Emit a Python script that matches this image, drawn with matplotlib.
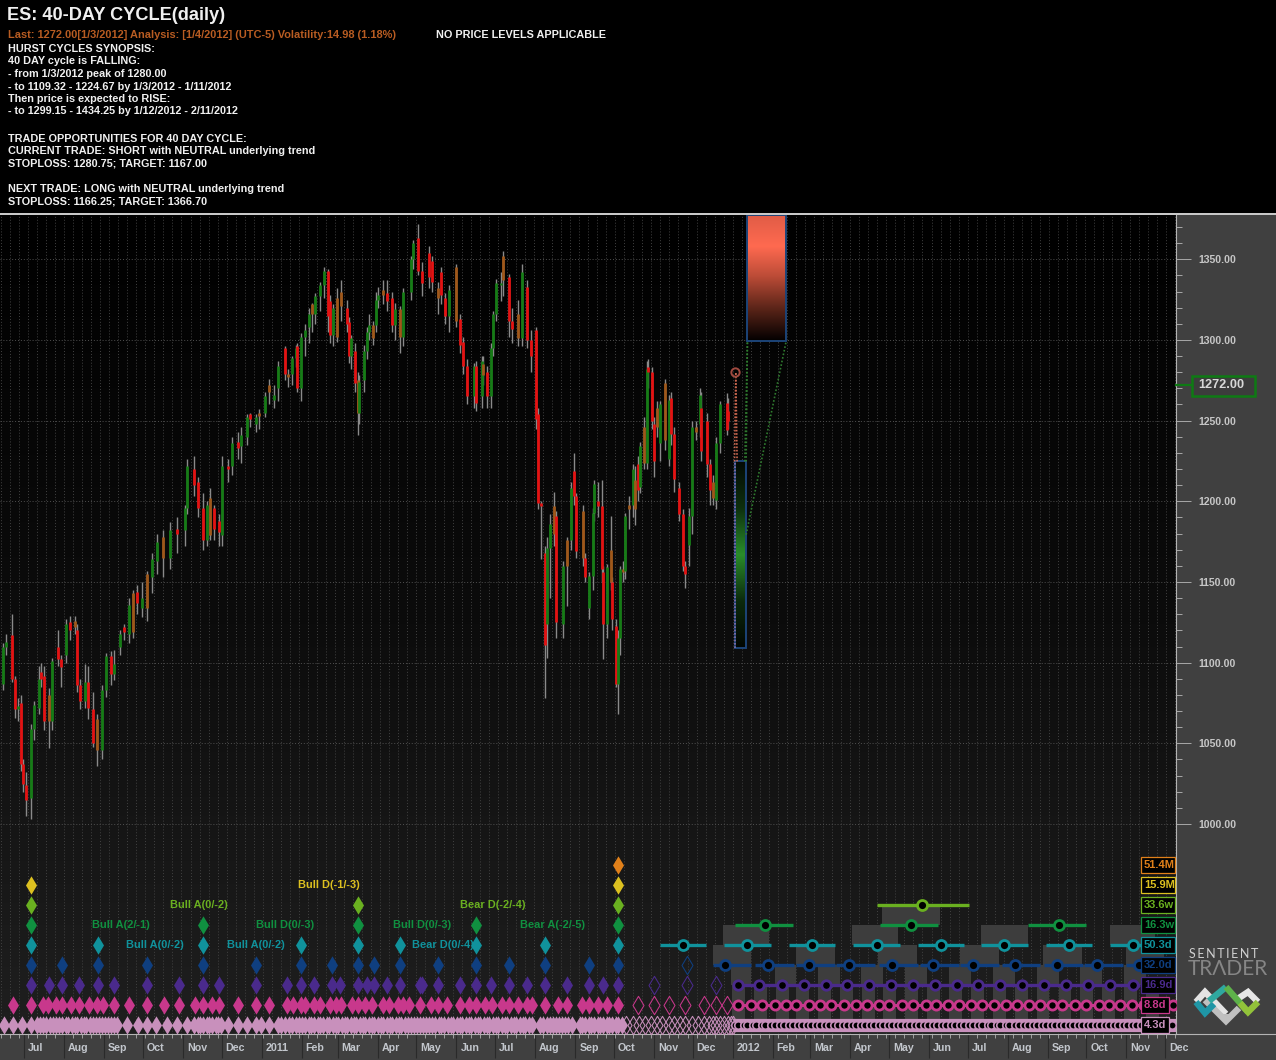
import numpy as np
import pandas as pd
import matplotlib
matplotlib.use("Agg")
import matplotlib.pyplot as plt
from matplotlib.colors import LinearSegmentedColormap
from matplotlib.patches import Rectangle
from matplotlib.path import Path
from matplotlib.transforms import ScaledTranslation

plt.rcParams['font.family'] = ['Liberation Sans', 'DejaVu Sans']
plt.rcParams['font.weight'] = 'bold'

# ---------- data: day numbers count calendar days from mid June 2010 ----------
bar_days = [2,5,9,12,14,16,18,20,24,26,30,32,34,38,40,45,47,51,54,58,60,62,66,68,72,75,79,82,86,88,
93,96,100,103,106,110,114,118,122,126,132,137,143,145,150,153,157,160,163,166,170,172,177,180,184,187,191,194,198,201,
205,208,212,215,221,223,226,229,230,233,236,239,242,244,248,251,254,
256,258,261,264,269,270,272,275,277,278,282,284,286,289,291,293,297,300,304,306,
310,312,318,320,324,327,332,335,339,342,345,348,353,356,359,362,367,369,373,374,
377,380,382,384,388,390,394,397,401,404,408,411,415,417,419,422,424,426,429,431,
436,439,442,445,446,452,453,456,459,460,463,466,467,470,473,474,477,479,480,483,
484,487,490,492,494,496,499,501,502,505,507,509,511,515,518,520,522,526,529,531,
534,536,539,542,543,548,550,552,555,558,563,564]
opens = [1087,1110,1117,1090,1071,1075,1037,1024,1016,1059,1072,1094,1092,1080,1064,1110,1102,1105,1125,1126,
1120,1086,1076,1088,1071,1065,1046,1083,1104,1093,1110,1122,1118,1119,1144,1134,1134,1153,1163,1178,
1165,1183,1182,1196,1220,1212,1196,1176,1202,1196,1188,1179,1222,1222,1237,1234,1240,1254,1248,1255,
1255,1272,1263,1270,1295,1279,1279,1289,1296,1270,1302,1308,1322,1316,1327,1334,1343,
1324,1303,1302,1330,1320,1311,1290,1293,1275,1255,
1275,1293,1305,1301,1309,1325,1331,1329,1326,1309,
1319,1302,1330,1350,1363,1343,1354,1349,1332,1342,
1326,1315,1345,1313,1299,1284,1265,1284,1265,1285,
1280,1265,1295,1316,1334,1352,1339,1312,1316,1301,
1333,1300,1306,1254,1199,1168,1124,1171,1197,1191,
1124,1160,1176,1219,1203,1194,1165,1134,1154,1193,
1200,1197,1156,1124,1170,1150,1123,1087,1115,1158,
1157,1198,1198,1195,1223,1209,1246,1224,1283,1280,
1248,1258,1236,1273,1226,1264,1242,1208,1192,1160,
1173,1191,1246,1248,1258,1250,1223,1212,1201,1236,
1261,1256]
closes = [1110,1113,1090,1071,1073,1037,1025,1015,1059,1074,
1090,1090,1064,1064,1101,1102,1097,1124,1120,1122,
1086,1076,1088,1072,1050,1046,1083,1104,1093,1099,
1118,1119,1136,1143,1137,1140,1155,1164,1175,1165,
1182,1180,1196,1222,1210,1196,1176,1198,1179,1183,
1181,1222,1220,1236,1233,1241,1252,1251,1252,1253,
1265,1268,1266,1284,1279,1277,1289,1295,1270,1302,
1306,1316,1316,1327,1334,1343,1315,
1303,1320,1326,1321,1310,1290,1301,1273,1255,1274,
1293,1305,1309,1309,1325,1328,1328,1324,1309,1319,
1302,1330,1350,1360,1343,1335,1339,1336,1326,1328,
1315,1331,1312,1297,1284,1265,1284,1261,1287,1278,
1265,1295,1316,1335,1335,1337,1312,1307,1301,1342,
1300,1290,1251,1199,1197,1111,1171,1186,1180,1125,
1160,1176,1208,1203,1169,1165,1153,1154,1193,1211,
1197,1158,1124,1159,1150,1127,1087,1115,1158,1156,
1191,1195,1220,1213,1207,1234,1224,1282,1280,1250,
1225,1246,1260,1238,1263,1242,1214,1192,1160,1155,
1191,1246,1243,1266,1231,1223,1207,1202,1236,1260,
1244,1250]
highs = [1112,1118,1130,1092,1078,1080,1040,1032,1062,1076,
1098,1100,1098,1084,1103,1120,1105,1127,1129,1129,
1124,1090,1099,1098,1082,1068,1086,1106,1107,1108,
1120,1124,1140,1145,1148,1150,1157,1168,1180,1182,
1187,1190,1198,1226,1228,1215,1205,1200,1208,1198,
1192,1228,1226,1240,1243,1246,1254,1255,1254,1257,
1268,1276,1272,1287,1296,1282,1290,1297,1298,1304,
1310,1320,1323,1329,1336,1345,1344,
1328,1322,1332,1337,1325,1314,1303,1298,1280,1278,
1297,1308,1316,1312,1330,1333,1337,1337,1330,1323,
1321,1332,1352,1362,1372,1348,1358,1352,1336,1345,
1329,1334,1347,1316,1302,1288,1286,1287,1290,1290,
1284,1298,1318,1338,1342,1355,1341,1320,1325,1347,
1337,1306,1308,1258,1200,1172,1178,1192,1206,1194,
1163,1178,1212,1230,1205,1198,1168,1156,1196,1213,
1212,1213,1160,1161,1191,1153,1127,1120,1160,1163,
1193,1203,1223,1222,1228,1237,1252,1287,1288,1283,
1252,1262,1262,1276,1266,1268,1246,1212,1195,1163,
1196,1250,1250,1270,1268,1255,1226,1216,1240,1262,
1267,1264]
lows = [1083,1105,1088,1066,1064,1033,1020,1005,1003,1052,
1068,1085,1058,1047,1058,1098,1085,1100,1114,1118,
1082,1071,1072,1065,1048,1036,1040,1079,1086,1089,
1105,1114,1112,1115,1130,1128,1126,1143,1155,1153,
1158,1168,1172,1192,1203,1190,1170,1172,1176,1176,
1172,1172,1212,1216,1226,1224,1235,1246,1243,1245,
1252,1260,1258,1262,1275,1271,1272,1283,1268,1262,
1290,1298,1305,1310,1318,1326,1305,
1298,1296,1299,1312,1305,1286,1282,1268,1241,1248,
1268,1288,1300,1297,1305,1320,1322,1318,1305,1300,
1292,1296,1325,1344,1340,1327,1332,1330,1316,1322,
1310,1305,1308,1292,1279,1260,1258,1256,1258,1272,
1258,1258,1290,1312,1324,1327,1302,1298,1296,1296,
1295,1280,1245,1195,1164,1078,1103,1140,1172,1115,
1115,1135,1170,1198,1165,1160,1150,1127,1145,1188,
1190,1150,1102,1115,1145,1120,1085,1068,1105,1150,
1152,1183,1190,1185,1200,1205,1220,1220,1270,1245,
1215,1240,1225,1232,1222,1235,1206,1188,1157,1146,
1160,1180,1238,1240,1225,1215,1198,1198,1195,1230,
1241,1245]
blended_days = [38,58,75,103,114,126,163,201,208,223,242,261,264,277,289,297,310,339,353,374,390,
                401,429,439,452,473,483,487,492,499,509,515,539,552]

price_ticks = [1000,1050,1100,1150,1200,1250,1300,1350]
last_price = 1272.00
peak_price = 1280.00
fall_low, fall_high = 1109.32, 1224.67
rise_low = 1299.15
fall_start, fall_end = 569, 578
rise_start, rise_end = 579, 609

cycle_names = ['4.3d','8.8d','16.9d','32.0d','50.3d','16.3w','33.6w','15.9M','51.4M']
cycle_colors = ['#c890bc','#c8388c','#4a2a8c','#0f3f80','#10929c','#109040','#6ab020','#dcc020','#e0801a']

past_4d = [3,10,17,24,29,31,33,36,39,41,43,46,48,51,53,56,58,60,63,65,67,70,72,74,77,79,81,84,86,88,91,98,
107,114,121,129,137,145,150,153,155,157,160,162,164,167,169,171,177,184,191,198,202,208,215,218,221,224,226,
229,232,234,236,239,241,243,246,248,250,253,255,258,260,262,265,267,269,272,274,276,279,281,283,286,288,290,
293,295,297,300,302,304,307,309,311,314,316,318,321,323,325,328,330,332,335,337,340,342,344,347,349,351,354,
356,358,361,363,365,368,370,372,375,377,379,382,384,386,389,391,393,396,398,400,403,405,407,410,412,418,421,
424,426,428,431,433,435,438,440,443,449,451,453,456,458,460,463,465,467,470,472,474,477,479,482]
past_9d = [10,24,33,37,43,48,55,61,69,75,80,88,100,114,127,139,151,157,164,170,184,198,208,222,227,233,236,243,
248,256,260,264,273,277,283,288,297,301,308,312,317,325,334,339,346,356,363,369,376,381,389,394,401,408,412,
422,432,439,451,456,463,470,479]
past_17d = [24,38,48,61,76,88,114,139,157,170,198,222,233,243,257,263,277,284,290,300,310,325,327,339,356,369,
380,394,408,422,439,456,467,479]
past_32d = [24,48,76,114,157,198,233,257,277,290,310,339,369,394,422,456,479]
past_50d = [24,76,157,233,277,310,369,422,479]
past_16w = [24,157,277,369,479]
past_34w = [24,277,479]
past_16m = [24,479]
past_51m = [479]

open_4d = [485,490,495,500,504,509,513,518,522,527,531,536,541,545,549,552,555,558,561,564,566,568]
open_9d = [494,507,518,531,545,555,563]
open_17d = [507,532,555]
open_32d = [532]

next_4d = [569,572,576,579,583,586,590,593,597,600,604,607,611,614,618,621,625,628,632,635,639,642,646,649,653,
656,660,663,667,670,674,677,681,684,688,691,695,698,702,705,709,712,716,719,723,726,730,733,737,740,744,747,
751,754,758,761,765,768,772,775,779,782,786,789,793,796,800,803,807,810,814,817,821,824,828,831,835,838,842,
845,849,852,856,859,863,866,870,873,877,880,884,887,891,894,898,901,905,908]
next_9d = [572,582,590,600,609,617,627,635,644,654,663,672,681,689,699,707,717,725,734,743,752,761,770,779,788,
797,806,815,823,833,841,851,859,868,877,886,909]
next_17d = [572,588,606,623,640,656,673,690,707,724,741,758,775,792,809,826,843,860,878]
next_32d = [562,595,627,658,691,723,754,786,819,850,882]
next_50d = [529,579,629,679,729,778,828,878]
next_16w = [593,706,820]
next_34w = [714]

signal_labels = ['Bull D(-1/-3)','Bull A(0/-2)','Bull A(2/-1)','Bull D(0/-3)','Bull D(0/-3)','Bull A(0/-2)',
                 'Bull A(0/-2)','Bear D(0/-4)','Bear D(-2/-4)','Bear A(-2/-5)']
signal_days = [255,154,94,221,327,120,198,343,382,428]
signal_rows = [7,6,5,5,5,4,4,4,6,5]

# shaded windows of the projected troughs
win_5_left = [683]
win_5_right = [728]
win_4_left = [560,660,760,860]
win_4_right = [596,696,796,895]
win_3_left = [552,617,680,744,808,872]
win_3_right = [582,647,710,774,838,902]
win_2_left = [566,600,634,667,701,735,769,803,837,871]
win_2_right = [582,617,651,684,718,752,786,820,854,888]
win_1_left = [567,584,601,617,634,651,668,684,701,718,735,752,769,786,803,820,837,854,871,888]

header_lines = ['HURST CYCLES SYNOPSIS:','40 DAY cycle is FALLING:','- from 1/3/2012 peak of 1280.00',
                '- to 1109.32 - 1224.67 by 1/3/2012 - 1/11/2012','Then price is expected to RISE:',
                '- to 1299.15 - 1434.25 by 1/12/2012 - 2/11/2012',
                'TRADE OPPORTUNITIES FOR 40 DAY CYCLE:','CURRENT TRADE: SHORT with NEUTRAL underlying trend',
                'STOPLOSS: 1280.75; TARGET: 1167.00','NEXT TRADE: LONG with NEUTRAL underlying trend',
                'STOPLOSS: 1166.25; TARGET: 1366.70']

# ---------- layout ----------
W, H = 1276, 1060
fig = plt.figure(figsize=(W/100, H/100), dpi=100, facecolor='#404040')
L, R, T, B = 0, 1176, 215, 1034
ax = fig.add_axes([L/W, 1-B/H, (R-L)/W, (B-T)/H])
X0, X1 = 0, 911
Y0 = 1000 - (B-824)/1.6136
Y1 = 1000 + (824-T)/1.6136
rows = ax.twinx()
rows.set_position(ax.get_position())
rows.set_ylim(-0.45, 40.5)
rows.yaxis.set_visible(False)
for s in rows.spines.values():
    s.set_visible(False)
rows.patch.set_visible(False)

# background
bg = LinearSegmentedColormap.from_list('bg', ['#000000', '#0c0c0c', '#1f1f1f'])
ax.imshow(np.linspace(0, 1, 256)[:, None], cmap=bg, aspect='auto', extent=(X0, X1, Y0, Y1),
          origin='upper', zorder=0)

# grid
start = pd.Timestamp('2010-07-01')
origin = 18.6
months = pd.date_range('2010-07-01', '2012-12-01', freq='MS')
month_pos = [(m - start).days + origin for m in months]
month_txt = [m.strftime('%b') if m.month != 1 else str(m.year) for m in months]
weeks = pd.date_range('2010-06-13', '2012-12-09', freq='7D')
week_pos = [(w - start).days + origin for w in weeks]
ax.vlines(week_pos, Y0, Y1, colors='#424242', lw=0.7, linestyles=(0, (1, 2)), zorder=1)
ax.hlines(price_ticks, X0, X1, colors='#505050', lw=0.7, linestyles=(0, (1, 2)), zorder=1)

# gradient target boxes
red_cm = LinearSegmentedColormap.from_list('r', ['#030000', '#5a2418', '#b84a36', '#ff6a50', '#e05c46'])
grn_cm = LinearSegmentedColormap.from_list('g', ['#020602', '#0c2a0c', '#2a8e2a', '#0e300e', '#040a04'])
ax.imshow(np.linspace(1, 0, 128)[:, None], cmap=red_cm, aspect='auto',
          extent=(rise_start, rise_end, rise_low, Y1), origin='upper', zorder=2)
ax.imshow(np.linspace(1, 0, 128)[:, None], cmap=grn_cm, aspect='auto',
          extent=(fall_start, fall_end, fall_low, fall_high), origin='upper', zorder=2)
ax.add_patch(Rectangle((rise_start, rise_low), rise_end-rise_start, Y1-rise_low, fill=False,
                       ec='#1c4478', lw=1.4, zorder=3))
ax.add_patch(Rectangle((fall_start, fall_low), fall_end-fall_start, fall_high-fall_low, fill=False,
                       ec='#1c4478', lw=1.4, zorder=3))
ax.plot([fall_start, fall_start], [fall_low, fall_high], color='#8a70a8', lw=1.2, ls=(0, (1, 1)), zorder=4)

# projection dotted lines
for xa, ya, xb, yb in [(fall_end, fall_high, rise_start, rise_low),
                       (fall_end-1, fall_high, rise_start, rise_low),
                       (fall_end, fall_low+70, rise_end, rise_low)]:
    ax.plot([xa, xb], [ya, yb], color='#2f7a2f', lw=1.2, ls=(0, (1, 1.2)), zorder=4)
for xa in (fall_start, fall_start+2):
    ax.plot([xa, fall_start+1], [fall_high, peak_price], color='#cc6850', lw=1.2, ls=(0, (1, 1)), zorder=5)
ax.plot([fall_start], [peak_price], 'o', ms=6, mfc='none', mec='#a04a40', mew=1.4, zorder=6)

# candles
bar_days_a = np.array(bar_days, float)
o, c, hi, lo = map(np.array, (opens, closes, highs, lows))
ax.vlines(bar_days_a, lo, hi, colors='#8a8a8a', lw=1.0, zorder=5)
body_colors = ['#a0581a' if d in blended_days else ('#167c16' if ce >= op else '#e41212')
               for d, op, ce in zip(bar_days, o, c)]
ax.vlines(bar_days_a, o, c, colors=body_colors, lw=2.0, zorder=6, capstyle='butt')

ax.set_xlim(X0, X1)
ax.set_ylim(Y0, Y1)

# shaded windows
shade = '#3d3d3d'
def windows(lefts, rights, r0, r1):
    for a, b in zip(lefts, rights):
        rows.add_patch(Rectangle((a, r0), b-a, r1-r0, fc=shade, ec='none', zorder=1))
windows(win_5_left, win_5_right, 5, 6)
windows(win_4_left, win_4_right, 4, 5)
windows(win_3_left, win_3_right, 3, 4)
windows(win_2_left, win_2_right, 2, 3)
windows(win_1_left, [v+10 for v in win_1_left], 0.25, 2)

# diamonds: past cycle troughs
rhomb = Path([(-0.6, 0), (0, 1), (0.6, 0), (0, -1), (-0.6, 0)], closed=True)
past_sets = [past_4d, past_9d, past_17d, past_32d, past_50d, past_16w, past_34w, past_16m, past_51m]
for r, (vals, col) in enumerate(zip(past_sets, cycle_colors)):
    rows.plot(vals, [r]*len(vals), ls='none', marker=rhomb, ms=13.2, mfc=col, mec='none', zorder=3)
open_sets = [open_4d, open_9d, open_17d, open_32d]
for r, vals in enumerate(open_sets):
    rows.plot(vals, [r]*len(vals), ls='none', marker=rhomb, ms=13.2, mfc='none', mec=cycle_colors[r],
              mew=0.75, zorder=3)

# projected cycles
rows.hlines(0, next_4d[0]-1, X1, colors=cycle_colors[0], lw=9.5, zorder=4)
rows.plot(next_4d, [0]*len(next_4d), ls='none', marker='o', ms=5.4, mfc='#000000', mec=cycle_colors[0],
          mew=1.2, zorder=5)
rows.hlines(1, 569, X1, colors=cycle_colors[1], lw=2.2, zorder=4)
rows.plot(next_9d, [1]*len(next_9d), ls='none', marker='o', ms=6.6, mfc='#000000', mec=cycle_colors[1],
          mew=2.0, zorder=5)
rows.hlines(2, 569, 883, colors=cycle_colors[2], lw=2.4, zorder=4)
rows.plot(next_17d, [2]*len(next_17d), ls='none', marker='o', ms=6.8, mfc='#000000', mec=cycle_colors[2],
          mew=2.0, zorder=5)
for row, vals, before, after in [(3, next_32d, 10, 20), (4, next_50d, 18, 18),
                                 (5, next_16w, 24, 21), (6, next_34w, 35, 37)]:
    col = cycle_colors[row]
    rows.hlines([row]*len(vals), [v-before for v in vals], [v+after for v in vals], colors=col, lw=2.4, zorder=4)
    rows.plot(vals, [row]*len(vals), ls='none', marker='o', ms=7.2, mfc='#000000', mec=col, mew=2.0, zorder=5)

# signal labels
for txt, d, r in zip(signal_labels, signal_days, signal_rows):
    rows.text(d, r, txt, color=cycle_colors[r], fontsize=7.9, ha='center', va='center', zorder=6)

# axes dressing
ax.yaxis.tick_right()
ax.set_yticks(price_ticks)
ax.set_yticklabels([f'{p:.2f}' for p in price_ticks])
ax.set_yticks(list(range(1000, 1375, 10)), minor=True)
ax.tick_params(axis='y', which='major', length=10.8, width=0.7, color='#a8a8a8', labelcolor='#c6c6c6',
               labelsize=7.6, pad=5.5)
ax.tick_params(axis='y', which='minor', length=4.3, width=0.7, color='#a8a8a8')
ax.set_xticks(month_pos)
ax.set_xticklabels(month_txt)
ax.set_xticks(week_pos, minor=True)
ax.tick_params(axis='x', which='major', length=17.3, width=0.8, color='#2a2a2a', labelcolor='#c2c6cc',
               labelsize=7.7, pad=-10.5)
ax.tick_params(axis='x', which='minor', length=3.0, width=0.7, color='#a0a0a0')
shift = ScaledTranslation(4/100, 0, fig.dpi_scale_trans)
for lab in ax.get_xticklabels():
    lab.set_ha('left')
    lab.set_transform(lab.get_transform() + shift)
for s in ('top', 'left'):
    ax.spines[s].set_visible(False)
ax.spines['right'].set_color('#b4b4b4')
ax.spines['bottom'].set_color('#b4b4b4')

# ---------- overlay in pixel coordinates: header, cycle tags, price tag, logo ----------
ov = fig.add_axes([0, 0, 1, 1], zorder=10)
ov.set_xlim(0, W)
ov.set_ylim(H, 0)
ov.axis('off')
ov.add_patch(Rectangle((0, 0), W, 213, fc='#000000', ec='none'))
ov.add_patch(Rectangle((0, 213), W, 2, fc='#c8c8c8', ec='none'))
ov.plot([1176, W], [1034, 1034], color='#b4b4b4', lw=0.8)

ov.text(7, 15.5, 'ES: 40-DAY CYCLE(daily)', color='#f0f0f0', fontsize=13.1, va='center')
ov.text(8, 34.5, 'Last: 1272.00[1/3/2012] Analysis: [1/4/2012] (UTC-5) Volatility:14.98 (1.18%)',
        color='#b85c22', fontsize=7.9, va='center')
ov.text(436, 34.5, 'NO PRICE LEVELS APPLICABLE', color='#f0f0f0', fontsize=7.85, va='center')
line_y = [48.5, 61.5, 74, 86.5, 99.5, 111.5, 138.5, 150.5, 163.5, 188.5, 201.5]
for txt, y in zip(header_lines, line_y):
    ov.text(7.5, y, txt, color='#f0f0f0', fontsize=7.85, va='center')

# cycle tags
for i, (name, col) in enumerate(zip(cycle_names, cycle_colors)):
    y = 1025 - 20*i
    x1 = 1169 if i < 2 else 1175
    ov.add_patch(Rectangle((1140.5, y-8), x1-1140.5, 15.5, fc='#000000', ec=col, lw=0.9))
    ov.text(1144, y, name, color=col, fontsize=8.0, va='center')

# last price tag
ov.plot([1176, 1192], [385, 385], color='#0e7a14', lw=1.6)
ov.add_patch(Rectangle((1192, 375.5), 63, 20, fc='#3c3c3c', ec='#0e7a14', lw=1.8))
ov.text(1198, 385.5, f'{last_price:.2f}', color='#d8d8d8', fontsize=9.2, va='center')

# logo
thin = '\u2009'
ov.text(1224, 954, thin.join('SENTIENT'), color='#d0d0d0', fontsize=9, ha='center', va='center',
        fontweight='normal', family=['Lato', 'DejaVu Sans'])
ov.text(1228, 969, 'TR\u039bDER', color='#868686', fontsize=15, ha='center', va='center', fontweight='normal',
        family=['Lato', 'DejaVu Sans'])
def chain(pts, col, lw=4.6):
    ov.plot([p[0] for p in pts], [p[1] for p in pts], color=col, lw=lw, solid_capstyle='butt',
            solid_joinstyle='miter')
chain([(1196, 1002), (1205, 992), (1226, 1014)], '#e4e4e4')
chain([(1226, 1014), (1226, 1021)], '#bcbcbc')
chain([(1205, 1000), (1226, 1021), (1239, 1008)], '#c0c0c0')
chain([(1196, 1002), (1205, 1013), (1214, 1004)], '#1f96a6')
chain([(1209, 1001), (1226, 987)], '#2fa8a0')
chain([(1236, 1000), (1248, 992), (1258, 1002)], '#e6e6e6')
chain([(1226, 987), (1248, 1012)], '#5eb24a')
chain([(1240, 1003), (1248, 1012), (1258, 1002)], '#92c23a')

fig.savefig('out.png', dpi=100, facecolor=fig.get_facecolor())
